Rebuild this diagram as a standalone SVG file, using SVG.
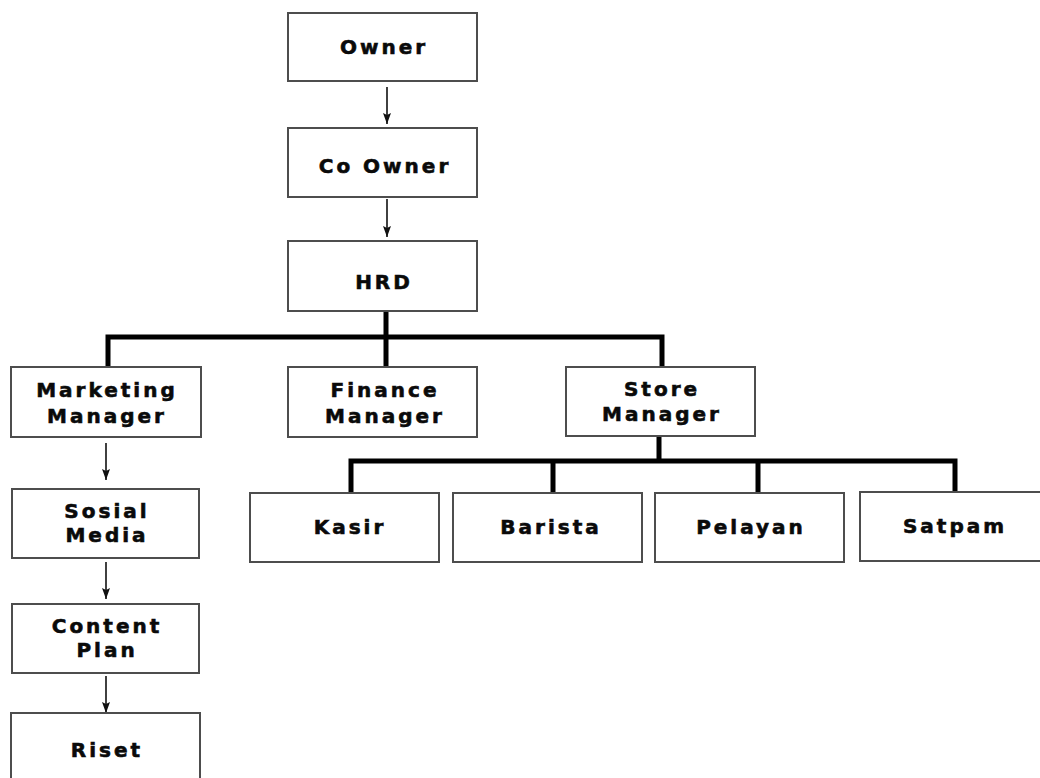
<svg xmlns="http://www.w3.org/2000/svg" width="1040" height="778" viewBox="0 0 1040 778">
<style>
.box{fill:#fff;stroke:#4d4d4d;stroke-width:2}
.t{font-family:"DejaVu Sans","Liberation Sans",Arial,sans-serif;font-weight:bold;font-size:20px;letter-spacing:3px;text-anchor:middle;fill:#0a0a0a;stroke:#0a0a0a;stroke-width:0.6}
.thick{fill:none;stroke:#000;stroke-width:5}
.thin{fill:none;stroke:#111;stroke-width:1.6}
</style>
<defs>
<marker id="ah" markerWidth="11" markerHeight="8" refX="11" refY="4" orient="auto" markerUnits="userSpaceOnUse" viewBox="0 0 11 8">
<path d="M0,0 L2,4 L0,8 L11,4 Z" fill="#111"/>
</marker>
</defs>
<rect width="1040" height="778" fill="#fff"/>
<g id="connectors">
<path class="thin" d="M387,87 V124" marker-end="url(#ah)"/>
<path class="thin" d="M387,199 V237" marker-end="url(#ah)"/>
<path class="thick" d="M386,311 V367 M108,367 V337 H662 V367"/>
<path class="thick" d="M659,436 V461 M351,493 V461 H955 V493 M553,461 V493 M758,461 V493"/>
<path class="thin" d="M106,443 V480" marker-end="url(#ah)"/>
<path class="thin" d="M106,562 V599" marker-end="url(#ah)"/>
<path class="thin" d="M106,676 V713" marker-end="url(#ah)"/>
</g>
<g id="owner"><rect class="box" x="288" y="13" width="189" height="68"/><text class="t" x="384" y="54">Owner</text></g>
<g id="coowner"><rect class="box" x="288" y="128" width="189" height="69"/><text class="t" x="385" y="173">Co Owner</text></g>
<g id="hrd"><rect class="box" x="288" y="241" width="189" height="70"/><text class="t" x="384" y="289">HRD</text></g>
<g id="marketing"><rect class="box" x="11" y="367" width="190" height="70"/><text class="t" x="107" y="397">Marketing</text><text class="t" x="107" y="423">Manager</text></g>
<g id="finance"><rect class="box" x="288" y="367" width="189" height="70"/><text class="t" x="385" y="397">Finance</text><text class="t" x="385" y="423">Manager</text></g>
<g id="store"><rect class="box" x="566" y="367" width="189" height="69"/><text class="t" x="662" y="396">Store</text><text class="t" x="662" y="421">Manager</text></g>
<g id="kasir"><rect class="box" x="250" y="493" width="189" height="69"/><text class="t" x="350" y="534">Kasir</text></g>
<g id="barista"><rect class="box" x="453" y="493" width="189" height="69"/><text class="t" x="551" y="534">Barista</text></g>
<g id="pelayan"><rect class="box" x="655" y="493" width="189" height="69"/><text class="t" x="751" y="534">Pelayan</text></g>
<g id="satpam"><rect class="box" x="860" y="492" width="189" height="69"/><text class="t" x="955" y="533">Satpam</text></g>
<g id="sosial"><rect class="box" x="12" y="489" width="187" height="69"/><text class="t" x="107" y="518">Sosial</text><text class="t" x="107" y="542">Media</text></g>
<g id="content"><rect class="box" x="12" y="604" width="187" height="69"/><text class="t" x="107" y="633">Content</text><text class="t" x="107" y="657">Plan</text></g>
<g id="riset"><rect class="box" x="11" y="713" width="189" height="70"/><text class="t" x="107" y="757">Riset</text></g>
</svg>
